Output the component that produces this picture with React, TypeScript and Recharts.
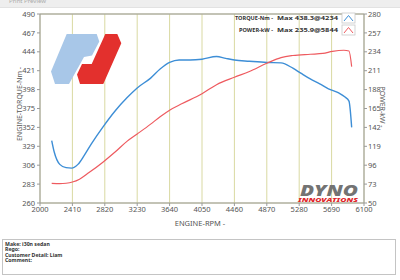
import React from "react";
import {
  LineChart,
  Line,
  XAxis,
  YAxis,
  CartesianGrid,
  ReferenceLine,
} from "recharts";

// engine speed ticks and the two scales
const RPM_TICKS = [2000, 2410, 2820, 3230, 3640, 4050, 4460, 4870, 5280, 5690, 6100];
const TORQUE_TICKS = [260, 283, 306, 329, 352, 375, 398, 421, 444, 467, 490];
const POWER_TICKS = [50, 73, 96, 119, 142, 165, 188, 211, 234, 257, 280];

// torque curve (Nm)
const TORQUE_RPM = [
  2148, 2180, 2250, 2330, 2400, 2480, 2560, 2650, 2800, 2950, 3100, 3230, 3400,
  3520, 3640, 3760, 3900, 4050, 4234, 4350, 4460, 4650, 4870, 5050, 5200, 5300,
  5420, 5540, 5650, 5780, 5860, 5910, 5944,
];
const TORQUE_NM = [
  336, 322, 307, 303, 302.5, 307, 318, 332, 353, 372, 388, 400, 412, 423, 431,
  434, 434, 435, 438.3, 436, 434, 432.5, 431, 430.5, 424, 418, 411, 405, 399,
  394, 389, 384, 352,
];

// power curve (kW)
const POWER_RPM = [
  2148, 2250, 2330, 2410, 2500, 2620, 2800, 2950, 3100, 3230, 3400, 3520, 3640,
  3800, 4050, 4234, 4460, 4650, 4870, 5050, 5200, 5420, 5580, 5700, 5844, 5910,
  5944,
];
const POWER_KW = [
  74, 73.5, 74, 75.5, 79, 87, 100, 112, 125, 134, 146, 155, 163, 171, 183, 194,
  203, 210, 220, 227, 229.5, 231, 232, 234.5, 235.9, 235, 216,
];

const INFO_LINES = ["Make: i30n sedan", "Rego:", "Customer Detail: Liam", "Comment:"];

const torqueData = TORQUE_RPM.map((rpm, i) => ({ rpm, torque: TORQUE_NM[i] }));
const powerData = POWER_RPM.map((rpm, i) => ({ rpm, power: POWER_KW[i] }));

const FONT = "'Noto Sans', 'Open Sans', sans-serif";
const BLUE = "#3d8ed6";
const RED = "#ee5a5f";
const GRID = "#d9d9a2";
const AXIS = "#9a9a9a";
const TICK = { fontSize: 7.5, fill: "#555", fontFamily: FONT };

export default function App() {
  return (
    <div
      style={{
        position: "absolute",
        left: 0,
        top: 0,
        width: 400,
        height: 280,
        background: "#fff",
        overflow: "hidden",
        fontFamily: FONT,
      }}
    >
      {/* window title strip */}
      <div
        style={{
          position: "absolute",
          left: 0,
          top: 0,
          width: 400,
          height: 7,
          background: "#eeeeee",
          borderBottom: "1px solid #e2e2e2",
        }}
      >
        <span
          style={{
            position: "absolute",
            left: 9,
            top: -2,
            fontSize: 6,
            lineHeight: "7px",
            color: "#aaa",
          }}
        >
          Print Preview
        </span>
      </div>

      <div style={{ position: "absolute", left: 0, top: 0 }}>
        <LineChart
          width={400}
          height={230}
          margin={{ top: 14, right: 0, bottom: 0, left: 0 }}
        >
          <CartesianGrid stroke={GRID} strokeWidth={1} />
          <XAxis
            type="number"
            dataKey="rpm"
            domain={[2000, 6100]}
            ticks={RPM_TICKS}
            interval={0}
            height={27}
            tick={TICK}
            tickSize={3}
            tickMargin={1}
            stroke={AXIS}
            allowDataOverflow
          />
          <YAxis
            yAxisId="left"
            type="number"
            domain={[260, 490]}
            ticks={TORQUE_TICKS}
            interval={0}
            width={40}
            tick={TICK}
            tickSize={3}
            tickMargin={2}
            stroke={AXIS}
          />
          <YAxis
            yAxisId="right"
            orientation="right"
            type="number"
            domain={[50, 280]}
            ticks={POWER_TICKS}
            interval={0}
            width={36}
            tick={TICK}
            tickSize={3}
            tickMargin={1}
            stroke={AXIS}
          />
          <ReferenceLine yAxisId="left" y={490} stroke={AXIS} />
          <Line
            yAxisId="left"
            data={torqueData}
            dataKey="torque"
            type="monotone"
            stroke={BLUE}
            strokeWidth={1.4}
            dot={false}
            isAnimationActive={false}
          />
          <Line
            yAxisId="right"
            data={powerData}
            dataKey="power"
            type="monotone"
            stroke={RED}
            strokeWidth={1.2}
            dot={false}
            isAnimationActive={false}
          />
        </LineChart>
      </div>

      {/* logos, legend and axis titles */}
      <svg
        width={400}
        height={280}
        style={{ position: "absolute", left: 0, top: 0, pointerEvents: "none" }}
      >
        <polygon
          points="66.7,34 96.7,34 99.3,41.5 92,55.5 84,57 69,84 55,84 51,71.4"
          fill="#a8c7e8"
        />
        <polygon
          points="105.3,34 117.3,34 121.3,43.3 103.3,84 80,84 77,74.5 82,63.9 91.7,63.9"
          fill="#e3302d"
        />

        <text
          x={329}
          y={196}
          textAnchor="middle"
          fontSize={15}
          fontWeight={900}
          fontStyle="italic"
          fill="#737373"
          fontFamily={FONT}
          textLength={58}
          lengthAdjust="spacingAndGlyphs"
        >
          DYNO
        </text>
        <text
          x={328}
          y={202}
          textAnchor="middle"
          fontSize={5.2}
          fontWeight={900}
          fontStyle="italic"
          fill="#e0262a"
          fontFamily={FONT}
          textLength={60}
          lengthAdjust="spacingAndGlyphs"
        >
          INNOVATIONS
        </text>

        {/* legend */}
        <g fontFamily={FONT} fontSize={5.6} fontWeight={700} fill="#333">
          <text x={273} y={20} textAnchor="end">TORQUE-Nm -</text>
          <text x={277} y={20} textLength={61} lengthAdjust="spacingAndGlyphs">
            Max 438.3@4234
          </text>
          <text x={273} y={31.5} textAnchor="end">POWER-kW -</text>
          <text x={277} y={31.5} textLength={61} lengthAdjust="spacingAndGlyphs">
            Max 235.9@5844
          </text>
        </g>
        <rect x={342} y={13} width={13} height={10} fill="#fff" stroke="#c8c8c8" strokeWidth={0.8} />
        <polyline points="344,21 348.5,15.5 353,21" fill="none" stroke={BLUE} strokeWidth={1} />
        <rect x={342} y={25} width={13} height={10} fill="#fff" stroke="#c8c8c8" strokeWidth={0.8} />
        <polyline points="344,33 348.5,27.5 353,33" fill="none" stroke={RED} strokeWidth={1} />

        {/* axis titles */}
        <text
          x={200}
          y={226}
          textAnchor="middle"
          fontSize={7.5}
          fill="#555"
          fontFamily={FONT}
        >
          ENGINE-RPM -
        </text>
        <text
          transform="translate(22,104) rotate(-90)"
          textAnchor="middle"
          fontSize={7}
          fill="#555"
          fontFamily={FONT}
        >
          ENGINE-TORQUE-Nm -
        </text>
        <text
          transform="translate(380,107) rotate(90)"
          textAnchor="middle"
          fontSize={7}
          fill="#555"
          fontFamily={FONT}
        >
          POWER-kW -
        </text>
      </svg>

      {/* vehicle info box */}
      <div
        style={{
          position: "absolute",
          left: 2,
          top: 239,
          width: 394,
          height: 36,
          border: "1px solid #c4c4c4",
          boxSizing: "border-box",
          padding: "2px 2px",
        }}
      >
        {INFO_LINES.map((line) => (
          <div
            key={line}
            style={{
              fontSize: 5.2,
              lineHeight: "5.3px",
              fontWeight: 700,
              color: "#333",
              whiteSpace: "nowrap",
            }}
          >
            {line}
          </div>
        ))}
      </div>
    </div>
  );
}
